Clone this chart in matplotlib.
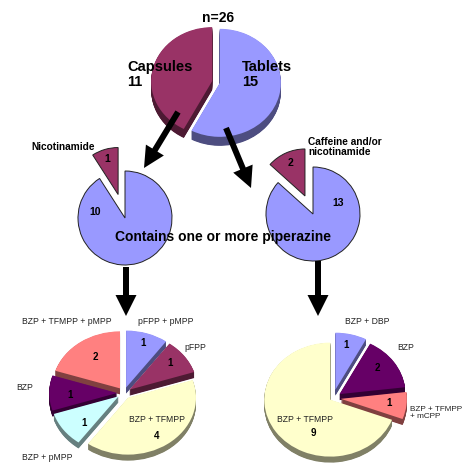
import matplotlib.pyplot as plt
from matplotlib.colors import to_rgb
from matplotlib.patches import FancyArrow

W, H = 463, 469

# sample counts
n_total = 26
form_names = ["Capsules", "Tablets"]
form_counts = [11, 15]

caps_other = "Nicotinamide"
caps_split = [1, 10]
tabs_other = "Caffeine and/or\nnicotinamide"
tabs_split = [2, 13]

caps_mix_names = ["pFPP + pMPP", "pFPP", "BZP + TFMPP", "BZP + pMPP", "BZP",
                  "BZP + TFMPP + pMPP"]
caps_mix_counts = [1, 1, 4, 1, 1, 2]
tabs_mix_names = ["BZP + DBP", "BZP", "BZP + TFMPP\n+ mCPP", "BZP + TFMPP"]
tabs_mix_counts = [1, 2, 1, 9]

BLUE, MAROON, CREAM, CYAN, PURPLE, SALMON = (
    "#9999ff", "#993366", "#ffffcc", "#ccffff", "#660066", "#ff8080")

plt.rcParams['font.family'] = ['Liberation Sans', 'DejaVu Sans']
fig = plt.figure(figsize=(W / 100, H / 100), dpi=100)


def darker(c, f=0.5):
    return tuple(v * f for v in to_rgb(c))


def pie3d(cx, cy, rx, ry, values, colors, explode, depth=0, clockwise=True,
          edge=None, span=1.6):
    """Pie centred at pixel (cx, cy) (y from top), squashed to rx by ry,
    with a shaded side wall `depth` pixels thick."""
    ax = fig.add_axes([(cx - span * rx) / W, (H - cy - span * ry) / H,
                       2 * span * rx / W, 2 * span * ry / H])
    kw = dict(explode=explode, startangle=90, counterclock=not clockwise)
    if depth:
        sides = [darker(c) for c in colors]
        steps = int(depth * 2)
        for k in range(steps, 0, -1):
            ax.pie(values, colors=sides, center=(0, -k * depth / steps / ry),
                   wedgeprops=dict(linewidth=0), **kw)
    wp = dict(linewidth=0) if edge is None else dict(edgecolor=edge, linewidth=0.7)
    ax.pie(values, colors=colors, wedgeprops=wp, **kw)
    ax.set_aspect('auto')
    ax.set_xlim(-span, span)
    ax.set_ylim(-span, span)
    ax.axis('off')
    return ax


# capsules vs tablets
pie3d(216, 82, 61, 54, form_counts, [MAROON, BLUE], [0.065, 0.065],
      depth=9, clockwise=False)

# what the capsules / tablets contain
pie3d(125, 218, 47, 47, caps_split, [MAROON, BLUE], [0.52, 0], clockwise=False,
      edge="#222222")
pie3d(313, 214, 47, 47, tabs_split, [MAROON, BLUE], [0.42, 0], clockwise=False,
      edge="#222222")

# piperazine combinations
pie3d(124, 393, 68, 57, caps_mix_counts,
      [BLUE, MAROON, CREAM, CYAN, PURPLE, SALMON], [0.1] * 6, depth=6)
pie3d(333, 398, 66, 57, tabs_mix_counts, [BLUE, PURPLE, SALMON, CREAM],
      [0.15, 0.12, 0.12, 0.05], depth=6)

# annotation layer in pixel coordinates
ov = fig.add_axes([0, 0, 1, 1], zorder=10)
ov.set_xlim(0, W)
ov.set_ylim(H, 0)
ov.axis('off')

bold = dict(fontweight="bold", color="black")
ov.text(218, 18, f"n={n_total}", ha="center", va="center", fontsize=10, **bold)
for name, cnt, x in zip(form_names, form_counts, [127, 242]):
    ov.text(x, 67, name, ha="left", va="center", fontsize=10.5, **bold)
    ov.text(x, 82, str(cnt), ha="left", va="center", fontsize=10.5, **bold)

ov.text(63, 147, caps_other, ha="center", va="center", fontsize=7.3, **bold)
ov.text(308, 147, tabs_other, ha="left", va="center", fontsize=7.3,
        linespacing=1.05, **bold)
for cnt, (x, y) in zip(caps_split, [(107, 159), (95, 212)]):
    ov.text(x, y, str(cnt), ha="center", va="center", fontsize=7.5, **bold)
for cnt, (x, y) in zip(tabs_split, [(291, 163), (338, 203)]):
    ov.text(x, y, str(cnt), ha="center", va="center", fontsize=7.5, **bold)
ov.text(223, 237, "Contains one or more piperazine", ha="center", va="center",
        fontsize=10, **bold)

caps_name_pos = [(166, 321), (195, 347), (157, 419), (47, 457), (25, 388),
                 (67, 321)]
caps_num_pos = [(143, 343), (170, 363), (157, 436), (84, 423), (70, 395),
                (95, 357)]
for name, cnt, (nx, ny), (vx, vy) in zip(caps_mix_names, caps_mix_counts,
                                         caps_name_pos, caps_num_pos):
    ov.text(nx, ny, name, ha="center", va="center", fontsize=6.2, color="#222222")
    ov.text(vx, vy, str(cnt), ha="center", va="center", fontsize=7, **bold)

tabs_name_pos = [(367, 321), (406, 347), (410, 413), (305, 419)]
tabs_name_ha = ["center", "center", "left", "center"]
tabs_name_size = [6.2, 6.2, 5.9, 6.2]
tabs_num_pos = [(346, 345), (377, 368), (389, 403), (313, 433)]
for name, cnt, (nx, ny), ha, fs, (vx, vy) in zip(
        tabs_mix_names, tabs_mix_counts, tabs_name_pos, tabs_name_ha,
        tabs_name_size, tabs_num_pos):
    ov.text(nx, ny, name, ha=ha, va="center", fontsize=fs, color="#222222",
            linespacing=1.0)
    ov.text(vx, vy, str(cnt), ha="center", va="center", fontsize=7, **bold)

# flow arrows
for (x0, y0), (x1, y1) in [((178, 112), (144, 168)), ((226, 128), (251, 188)),
                           ((126, 267), (126, 316)), ((318, 261), (318, 316))]:
    ov.add_patch(FancyArrow(x0, y0, x1 - x0, y1 - y0, width=6, head_width=21,
                            head_length=21, length_includes_head=True,
                            fc="black", ec="none"))

fig.savefig("out.png", dpi=100, facecolor="white")
